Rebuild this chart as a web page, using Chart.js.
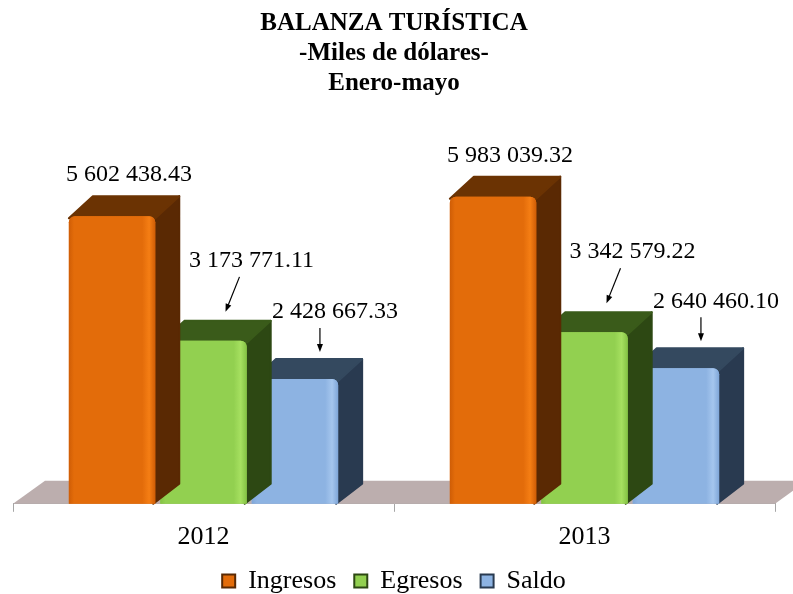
<!DOCTYPE html>
<html>
<head>
<meta charset="utf-8">
<title>Balanza turística</title>
<script src="https://cdn.jsdelivr.net/npm/chart.js@4/dist/chart.umd.min.js"></script>
<style>
  body { margin: 0; background: #ffffff; }
  #wrap { width: 793px; height: 594px; }
</style>
</head>
<body>
<div id="wrap"><canvas id="balanzaChart"></canvas></div>
<script>
// datos (miles de dólares, enero-mayo)
const years = ['2012', '2013'];
const ingresos = [5602438.43, 5983039.32];
const egresos = [3173771.11, 3342579.22];
const saldo = [2428667.33, 2640460.10];
const seriesNames = ['Ingresos', 'Egresos', 'Saldo'];

// colores: frente, lado, techo
const palette = [
    { front: '#e36c0a', light: '#f57e14', shade: '#cf5d06', side: '#5a2903', top: '#6b3303' },
    { front: '#92d050', light: '#a6e060', shade: '#84c244', side: '#2d4813', top: '#3a5b1a' },
    { front: '#8db3e2', light: '#a5c6ee', shade: '#7fa6d8', side: '#293a50', top: '#34495f' }
];

const DX = 24, DY = -20;          // profundidad de las barras
const FLOOR_DX = 32, FLOOR_DY = -23;

// posición de etiqueta y flecha relativa al borde superior de cada barra
const labelPlacement = [
    { lx: 17, ly: -41, arrow: null },
    { lx: 48, ly: -80, arrow: [36, -64, 22, -29] },
    { lx: 40, ly: -67, arrow: [25, -51, 25, -27] }
];

function fmt(v) {
    const parts = v.toFixed(2).split('.');
    return parts[0].replace(/\B(?=(\d{3})+(?!\d))/g, ' ') + '.' + parts[1];
}

function barBox(bar) {
    const p = bar.getProps(['x', 'y', 'base', 'width'], true);
    return { l: p.x - p.width / 2, r: p.x + p.width / 2, t: p.y, b: p.base, cx: p.x };
}

const bars3d = {
    id: 'bars3d',
    beforeDatasetsDraw(chart) {
        const { ctx, chartArea } = chart;
        const y = chartArea.bottom;
        ctx.save();
        ctx.fillStyle = '#bcaeae';
        ctx.beginPath();
        ctx.moveTo(chartArea.left, y);
        ctx.lineTo(chartArea.left + FLOOR_DX, y + FLOOR_DY);
        ctx.lineTo(chartArea.right + FLOOR_DX, y + FLOOR_DY);
        ctx.lineTo(chartArea.right, y);
        ctx.closePath();
        ctx.fill();
        ctx.restore();
    },
    beforeDatasetDraw(chart, args) {
        const { ctx } = chart;
        const c = palette[args.index];
        ctx.save();
        ctx.lineJoin = 'round';
        ctx.lineWidth = 2;
        args.meta.data.forEach(bar => {
            const b = barBox(bar);
            // lado
            ctx.fillStyle = c.side;
            ctx.strokeStyle = c.side;
            ctx.beginPath();
            ctx.moveTo(b.r - 2, b.t);
            ctx.lineTo(b.r + DX, b.t + DY);
            ctx.lineTo(b.r + DX, b.b + DY);
            ctx.lineTo(b.r - 2, b.b);
            ctx.closePath();
            ctx.fill();
            ctx.stroke();
            // techo
            ctx.fillStyle = c.top;
            ctx.strokeStyle = c.top;
            ctx.beginPath();
            ctx.moveTo(b.l, b.t + 2);
            ctx.lineTo(b.l + DX, b.t + DY);
            ctx.lineTo(b.r + DX, b.t + DY);
            ctx.lineTo(b.r, b.t + 2);
            ctx.closePath();
            ctx.fill();
            ctx.stroke();
        });
        ctx.restore();
    },
    afterDatasetDraw(chart, args) {
        const { ctx } = chart;
        const c = palette[args.index];
        ctx.save();
        args.meta.data.forEach(bar => {
            const b = barBox(bar);
            const w = b.r - b.l;
            const g = ctx.createLinearGradient(b.l, 0, b.r, 0);
            g.addColorStop(0, c.shade);
            g.addColorStop(0.06, c.front);
            g.addColorStop(0.85, c.front);
            g.addColorStop(0.93, c.light);
            g.addColorStop(1, c.shade);
            ctx.fillStyle = g;
            ctx.beginPath();
            ctx.roundRect(b.l, b.t, w, b.b - b.t, [6, 6, 0, 0]);
            ctx.fill();
        });
        ctx.restore();
    },
    afterDatasetsDraw(chart) {
        const { ctx } = chart;
        ctx.save();
        ctx.font = '24px "Liberation Serif", "Times New Roman", serif';
        ctx.fillStyle = '#000';
        ctx.strokeStyle = '#000';
        ctx.textAlign = 'center';
        ctx.textBaseline = 'middle';
        chart.data.datasets.forEach((ds, i) => {
            const place = labelPlacement[i];
            chart.getDatasetMeta(i).data.forEach((bar, j) => {
                const b = barBox(bar);
                ctx.fillText(fmt(ds.data[j]), b.cx + place.lx, b.t + place.ly);
                if (place.arrow) {
                    const [x1, y1, x2, y2] = place.arrow;
                    const sx = b.cx + x1, sy = b.t + y1, ex = b.cx + x2, ey = b.t + y2;
                    const ang = Math.atan2(ey - sy, ex - sx);
                    ctx.lineWidth = 1.2;
                    ctx.beginPath();
                    ctx.moveTo(sx, sy);
                    ctx.lineTo(ex - 6 * Math.cos(ang), ey - 6 * Math.sin(ang));
                    ctx.stroke();
                    ctx.beginPath();
                    ctx.moveTo(ex, ey);
                    ctx.lineTo(ex - 8 * Math.cos(ang) + 3 * Math.sin(ang), ey - 8 * Math.sin(ang) - 3 * Math.cos(ang));
                    ctx.lineTo(ex - 8 * Math.cos(ang) - 3 * Math.sin(ang), ey - 8 * Math.sin(ang) + 3 * Math.cos(ang));
                    ctx.closePath();
                    ctx.fill();
                }
            });
        });
        ctx.restore();
    }
};

Chart.defaults.font.family = '"Liberation Serif", "Times New Roman", serif';
Chart.defaults.color = '#000';

const seriesData = [ingresos, egresos, saldo];

new Chart(document.getElementById('balanzaChart'), {
    type: 'bar',
    data: {
        labels: years,
        datasets: seriesData.map((d, i) => ({
            label: seriesNames[i],
            data: d,
            backgroundColor: palette[i].front,
            borderColor: palette[i].side,
            borderWidth: 0,
            borderRadius: { topLeft: 6, topRight: 6 },
            borderSkipped: false,
            categoryPercentage: 0.72,
            barPercentage: 0.945
        }))
    },
    options: {
        responsive: true,
        maintainAspectRatio: false,
        animation: false,
        layout: { padding: { left: 13, right: 18, top: 0, bottom: -10 } },
        scales: {
            x: {
                grid: { drawOnChartArea: false, tickLength: 8, color: '#a6a6a6' },
                border: { color: '#a6a6a6' },
                ticks: { font: { size: 26 }, padding: 10, color: '#000' }
            },
            y: {
                display: false,
                min: 0,
                max: 6950000
            }
        },
        plugins: {
            title: {
                display: true,
                text: ['BALANZA TURÍSTICA', '-Miles de dólares-', 'Enero-mayo'],
                font: { size: 25, weight: 'bold', lineHeight: 1.2 },
                color: '#000',
                padding: { top: 9, bottom: 48 }
            },
            legend: {
                position: 'bottom',
                labels: {
                    font: { size: 26 },
                    color: '#000',
                    boxWidth: 13,
                    boxHeight: 13,
                    padding: 5,
                    generateLabels(chart) {
                        const n = chart.data.datasets.length;
                        return chart.data.datasets.map((ds, i) => ({
                            // espacio extra entre entradas de la leyenda
                            text: i < n - 1 ? ds.label + '  ' : ds.label,
                            fillStyle: palette[i].front,
                            strokeStyle: palette[i].side,
                            lineWidth: 2,
                            datasetIndex: i
                        }));
                    }
                }
            },
            tooltip: { enabled: false }
        }
    },
    plugins: [bars3d]
});
</script>
</body>
</html>
